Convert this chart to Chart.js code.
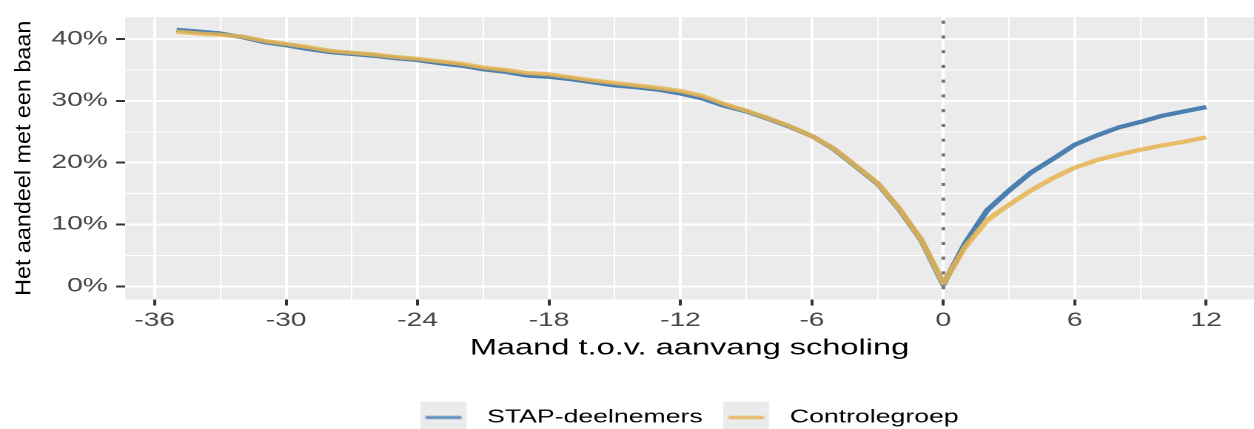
<!DOCTYPE html>
<html>
<head>
<meta charset="utf-8">
<script src="https://cdn.jsdelivr.net/npm/chart.js@4.4.1/dist/chart.umd.min.js"></script>
<style>
  html, body { margin: 0; padding: 0; background: #fff; overflow: hidden; }
  /* the reference is stretched sideways, so the canvas is too */
  #wrap { width: 847px; height: 429px; transform: scaleX(1.4805); transform-origin: 0 0; }
</style>
</head>
<body>
<div id="wrap"><canvas id="chart" width="847" height="429"></canvas></div>
<script>
// Maand t.o.v. aanvang scholing
const months = [-35, -34, -33, -32, -31, -30, -29, -28, -27, -26, -25, -24, -23, -22, -21, -20,
    -19, -18, -17, -16, -15, -14, -13, -12, -11, -10, -9, -8, -7, -6, -5, -4, -3, -2, -1,
    0, 1, 2, 3, 4, 5, 6, 7, 8, 9, 10, 11, 12];

// Het aandeel met een baan (%)
const stap = [41.5, 41.2, 40.9, 40.3, 39.5, 39.0, 38.4, 37.9, 37.6, 37.3, 36.9, 36.6, 36.1, 35.7,
    35.1, 34.7, 34.1, 33.9, 33.5, 33.0, 32.5, 32.2, 31.8, 31.2, 30.4, 29.2, 28.3, 27.1, 25.8,
    24.3, 22.2, 19.4, 16.6, 12.4, 7.4, 0.3, 7.0, 12.3, 15.5, 18.4, 20.6, 22.9, 24.4, 25.7,
    26.6, 27.6, 28.3, 29.0];
const controle = [41.2, 40.9, 40.7, 40.4, 39.7, 39.2, 38.7, 38.1, 37.8, 37.5, 37.1, 36.8, 36.4,
    36.0, 35.4, 35.0, 34.5, 34.3, 33.8, 33.3, 32.9, 32.5, 32.1, 31.6, 30.8, 29.5, 28.4, 27.2,
    25.9, 24.3, 22.3, 19.5, 16.7, 12.5, 7.5, 0.5, 6.4, 10.7, 13.2, 15.5, 17.5, 19.2, 20.4,
    21.3, 22.1, 22.8, 23.4, 24.1];

const xTicks = [-36, -33, -30, -27, -24, -21, -18, -15, -12, -9, -6, -3, 0, 3, 6, 9, 12];
const yTicks = [0, 5, 10, 15, 20, 25, 30, 35, 40];
const xLimits = [-37.35, 14.18];
const yLimits = [-2.13, 43.55];

const blue = '#4a7fb0';
const orange = 'rgba(232, 180, 80, 0.85)';

Chart.defaults.font.family = "'Liberation Sans', Arial, sans-serif";

// legend key: grey square with a short coloured line
function makeKey(color) {
    const c = document.createElement('canvas');
    c.width = 36;
    c.height = 32;
    const g = c.getContext('2d');
    g.fillStyle = '#ebebeb';
    g.fillRect(0, 0, 31, 32);
    g.strokeStyle = color;
    g.lineWidth = 3;
    g.beginPath();
    g.moveTo(3.4, 16);
    g.lineTo(27.7, 16);
    g.stroke();
    return c;
}
const keyBlue = makeKey('#5b8cbc');
const keyOrange = makeKey('#e8b862');

const toPoints = vals => months.map((m, i) => ({ x: m, y: vals[i] }));

const panelBg = {
    id: 'panelBg',
    beforeDraw(chart) {
        const { ctx, chartArea: a } = chart;
        ctx.save();
        ctx.fillStyle = '#ebebeb';
        ctx.fillRect(a.left, a.top, a.right - a.left, a.bottom - a.top);
        ctx.restore();
    }
};

// y title drawn by hand so it can be stretched along its length
const yTitle = {
    id: 'yTitle',
    afterDraw(chart) {
        const { ctx, chartArea: a } = chart;
        ctx.save();
        ctx.translate(16.5, (a.top + a.bottom) / 2);
        ctx.rotate(-Math.PI / 2);
        ctx.scale(1.6, 1);
        ctx.font = "14.6px 'Liberation Sans', Arial, sans-serif";
        ctx.fillStyle = '#000';
        ctx.textAlign = 'center';
        ctx.textBaseline = 'middle';
        ctx.fillText('Het aandeel met een baan', 0, 0);
        ctx.restore();
    }
};

new Chart(document.getElementById('chart'), {
    type: 'line',
    data: {
        datasets: [
            {
                label: 'Controlegroep',
                data: toPoints(controle),
                borderColor: orange,
                borderWidth: 4.2,
                pointRadius: 0,
                tension: 0,
                borderJoinStyle: 'round',
                order: 0
            },
            {
                label: 'STAP-deelnemers',
                data: toPoints(stap),
                borderColor: blue,
                borderWidth: 4.2,
                pointRadius: 0,
                tension: 0,
                borderJoinStyle: 'round',
                order: 1
            },
            {
                label: 'aanvang',
                data: [{ x: 0, y: yLimits[1] }, { x: 0, y: yLimits[0] }],
                borderColor: '#737373',
                borderWidth: 2.4,
                borderDash: [3.2, 11.55],
                borderDashOffset: -3.5,
                pointRadius: 0,
                order: 2
            }
        ]
    },
    options: {
        responsive: false,
        animation: false,
        devicePixelRatio: 2,
        layout: { padding: 0 },
        scales: {
            x: {
                type: 'linear',
                min: xLimits[0],
                max: xLimits[1],
                afterBuildTicks: s => { s.ticks = xTicks.map(v => ({ value: v })); },
                afterFit: s => { s.height = 95.2; },
                border: { display: false },
                grid: {
                    color: '#ffffff',
                    lineWidth: c => (c.tick && c.tick.value % 6 === 0 ? 2 : 1),
                    tickColor: c => (c.tick && c.tick.value % 6 === 0 ? '#333333' : 'rgba(0,0,0,0)'),
                    tickLength: 6,
                    tickWidth: 2
                },
                ticks: {
                    autoSkip: false,
                    maxRotation: 0,
                    padding: 4,
                    color: '#474747',
                    font: { size: 19 },
                    callback: v => (v % 6 === 0 ? String(v) : '')
                },
                title: {
                    display: true,
                    text: 'Maand t.o.v. aanvang scholing',
                    color: '#000',
                    font: { size: 22 },
                    padding: { top: 0, bottom: 33 }
                }
            },
            y: {
                min: yLimits[0],
                max: yLimits[1],
                afterBuildTicks: s => { s.ticks = yTicks.map(v => ({ value: v })); },
                afterFit: s => { s.width = 84.5; },
                border: { display: false },
                grid: {
                    color: '#ffffff',
                    lineWidth: c => (c.tick && c.tick.value % 10 === 0 ? 2 : 1),
                    tickColor: c => (c.tick && c.tick.value % 10 === 0 ? '#333333' : 'rgba(0,0,0,0)'),
                    tickLength: 6,
                    tickWidth: 2
                },
                ticks: {
                    padding: 5.7,
                    color: '#474747',
                    font: { size: 19 },
                    callback: v => (v % 10 === 0 ? v + '%' : '')
                }
            }
        },
        plugins: {
            tooltip: { enabled: false },
            legend: {
                position: 'bottom',
                fullSize: false,
                maxHeight: 34.3,
                labels: {
                    usePointStyle: true,
                    pointStyleWidth: 36,
                    padding: 13.8,
                    color: '#000',
                    font: { size: 18 },
                    generateLabels: () => [
                        { text: 'STAP-deelnemers', pointStyle: keyBlue, fontColor: '#000', hidden: false, datasetIndex: 1, lineWidth: 0 },
                        { text: 'Controlegroep', pointStyle: keyOrange, fontColor: '#000', hidden: false, datasetIndex: 0, lineWidth: 0 }
                    ]
                }
            }
        }
    },
    plugins: [panelBg, yTitle]
});
</script>
</body>
</html>
